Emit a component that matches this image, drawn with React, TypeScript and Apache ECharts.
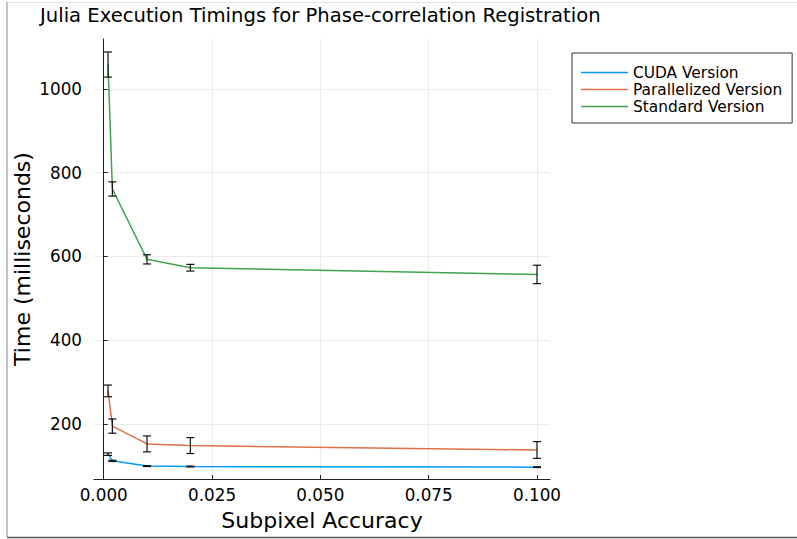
import React, { useEffect, useRef } from "react";
import * as echarts from "echarts";

const subpixel = [0.001, 0.002, 0.01, 0.02, 0.1];
const cudaMean = [128, 112, 99.5, 98.5, 97];
const cudaErr = [3, 1.5, 1, 1, 1];
const parallelMean = [279, 195, 152.5, 148.5, 138];
const parallelErr = [14, 17, 19, 19, 20];
const standardMean = [1058, 761, 593, 573, 557];
const standardErr = [30, 17, 11, 8, 22];
const yTicks = [200, 400, 600, 800, 1000];
const xTicks = [0, 0.025, 0.05, 0.075, 0.1];
const seriesNames = ["CUDA Version", "Parallelized Version", "Standard Version"];
const colors = ["#009AFA", "#E36F47", "#3EA44E"];

const FONT = "'DejaVu Sans', sans-serif";

export default function App() {
  const ref = useRef<HTMLDivElement>(null);
  useEffect(() => {
    if (!ref.current) return;
    const chart = echarts.init(ref.current, undefined, { renderer: "svg" });
    const means = [cudaMean, parallelMean, standardMean];
    const errs = [cudaErr, parallelErr, standardErr];

    const lineSeries = seriesNames.map((name, i) => ({
      name,
      type: "line",
      data: subpixel.map((x, j) => [x, means[i][j]]),
      symbol: "none",
      showSymbol: false,
      lineStyle: { color: colors[i], width: 1.5 },
      itemStyle: { color: colors[i] },
      z: 2,
    }));

    const errSeries = seriesNames.map((_, i) => ({
      type: "custom",
      data: subpixel.map((x, j) => [x, means[i][j], errs[i][j]]),
      z: 3,
      silent: true,
      renderItem: (params: any, api: any) => {
        const x = api.value(0);
        const y = api.value(1);
        const e = api.value(2);
        const lo = api.coord([x, y - e]);
        const hi = api.coord([x, y + e]);
        const hw = 4;
        const style = { stroke: "#111", lineWidth: 1.2 };
        return {
          type: "group",
          children: [
            { type: "line", shape: { x1: lo[0], y1: lo[1], x2: hi[0], y2: hi[1] }, style },
            { type: "line", shape: { x1: lo[0] - hw, y1: lo[1], x2: lo[0] + hw, y2: lo[1] }, style },
            { type: "line", shape: { x1: hi[0] - hw, y1: hi[1], x2: hi[0] + hw, y2: hi[1] }, style },
          ],
        };
      },
      encode: { x: 0, y: 1 },
    }));

    chart.setOption({
      animation: false,
      backgroundColor: "#fff",
      title: {
        text: "Julia Execution Timings for Phase-correlation Registration",
        left: 40,
        top: 5,
        padding: 0,
        textStyle: { fontFamily: FONT, fontSize: 19.6, fontWeight: "normal", color: "#000" },
      },
      legend: {
        data: seriesNames,
        orient: "vertical",
        left: 572,
        top: 53,
        padding: [12, 10, 9, 9],
        itemGap: 2,
        itemWidth: 47,
        itemHeight: 1.5,
        icon: "rect",
        borderColor: "#333",
        borderWidth: 1,
        textStyle: { fontFamily: FONT, fontSize: 15.4, lineHeight: 15, color: "#000" },
      },
      grid: { left: 94, right: 247, top: 39, bottom: 60 },
      xAxis: {
        type: "value",
        min: -0.00224,
        max: 0.103,
        name: "Subpixel Accuracy",
        nameLocation: "middle",
        nameGap: 30,
        nameMoveOverlap: false,
        nameTextStyle: { fontFamily: FONT, fontSize: 22, color: "#000" },
        axisLine: { show: true, lineStyle: { color: "#222", width: 1 } },
        axisTick: { show: true, inside: true, length: 4, customValues: xTicks, lineStyle: { color: "#222" } },
        axisLabel: {
          customValues: xTicks,
          formatter: (v: number) => v.toFixed(3),
          fontFamily: FONT,
          fontSize: 16.8,
          color: "#000",
          margin: 7,
        },
        splitLine: { show: true, lineStyle: { color: "#ebebeb", width: 1 } },
      },
      yAxis: {
        type: "value",
        min: 68.7,
        max: 1119,
        name: "Time (milliseconds)",
        nameLocation: "middle",
        nameRotate: 90,
        nameGap: 61,
        nameMoveOverlap: false,
        nameTextStyle: { fontFamily: FONT, fontSize: 22, color: "#000" },
        axisLine: { show: true, lineStyle: { color: "#222", width: 1 } },
        axisTick: { show: true, inside: true, length: 4, customValues: yTicks, lineStyle: { color: "#222" } },
        axisLabel: {
          customValues: yTicks,
          formatter: (v: number) => String(v),
          fontFamily: FONT,
          fontSize: 16.8,
          color: "#000",
          margin: 12,
        },
        splitLine: { show: true, lineStyle: { color: "#ebebeb", width: 1 } },
      },
      graphic: [
        { type: "line", shape: { x1: 7, y1: 2.5, x2: 797, y2: 2.5 }, style: { stroke: "#e3e3e3", lineWidth: 1 }, silent: true },
        { type: "line", shape: { x1: 7, y1: 2, x2: 7, y2: 537 }, style: { stroke: "#8a8a8a", lineWidth: 1 }, silent: true },
        { type: "line", shape: { x1: 7, y1: 537.5, x2: 797, y2: 537.5 }, style: { stroke: "#555", lineWidth: 1.5 }, silent: true },
      ],
      series: [...lineSeries, ...errSeries],
    });
    return () => chart.dispose();
  }, []);
  return (
    <div
      ref={ref}
      style={{ position: "fixed", left: 0, top: 0, width: 797, height: 539 }}
    />
  );
}
